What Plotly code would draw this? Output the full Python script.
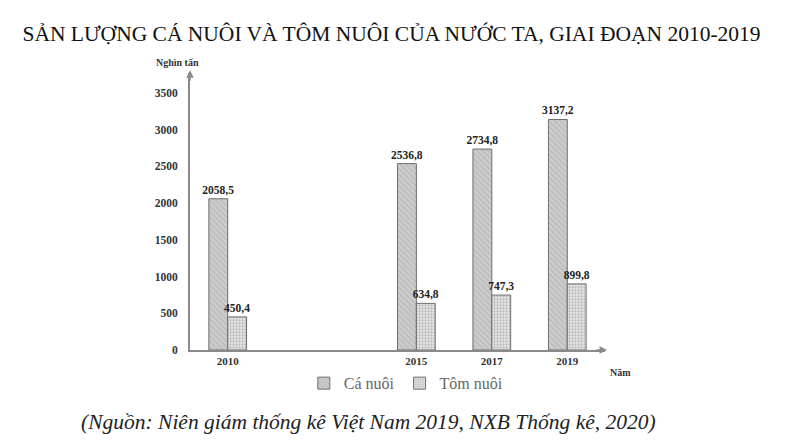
import plotly.graph_objects as go

# Data (nghìn tấn)
years = [2010, 2015, 2017, 2019]
ca_nuoi = [2058.5, 2536.8, 2734.8, 3137.2]
tom_nuoi = [450.4, 634.8, 747.3, 899.8]
y_ticks = [0, 500, 1000, 1500, 2000, 2500, 3000, 3500]


def vn(v):
    # Vietnamese decimal comma
    return f"{v:.1f}".replace(".", ",")


font = "Liberation Serif, Times New Roman, serif"
label_font = dict(family=font, size=11.5, color="#222", weight="bold")

fig = go.Figure()

fig.add_trace(go.Bar(
    x=years, y=ca_nuoi, name="Cá nuôi",
    width=0.5, offset=-0.5,
    marker=dict(color="#cdcdcd", line=dict(color="#6e6e6e", width=1),
                pattern=dict(shape="\\", fgcolor="#a0a0a0", size=4, solidity=0.3)),
    text=[vn(v) for v in ca_nuoi], textposition="outside",
    textfont=label_font, constraintext="none", cliponaxis=False,
))
fig.add_trace(go.Bar(
    x=years, y=tom_nuoi, name="Tôm nuôi",
    width=0.5, offset=0,
    marker=dict(color="#e8e8e8", line=dict(color="#6e6e6e", width=1),
                pattern=dict(shape=".", fgcolor="#8c8c8c", size=3, solidity=0.45)),
    text=[vn(v) for v in tom_nuoi], textposition="outside",
    textfont=label_font, constraintext="none", cliponaxis=False,
))

# the page adds an 8px body margin, so the figure is drawn 8px smaller
fig.update_layout(
    width=785, height=434,
    barmode="overlay",
    plot_bgcolor="white", paper_bgcolor="white",
    margin=dict(l=182, r=188, t=65, b=92),
    font=dict(family=font, color="#222"),
    title=dict(text="SẢN LƯỢNG CÁ NUÔI VÀ TÔM NUÔI CỦA NƯỚC TA, GIAI ĐOẠN 2010-2019",
               x=383.5 / 785, xanchor="center", y=1 - 25 / 434, yanchor="middle",
               font=dict(family=font, size=21.5, color="#111")),
    legend=dict(orientation="h", x=0.52, xanchor="center", y=-0.12, yanchor="middle",
                font=dict(family=font, size=16, color="#666"),
                itemwidth=30, tracegroupgap=0),
    xaxis=dict(range=[2009, 2020], tickvals=years, ticktext=[str(y) for y in years],
               showline=True, linecolor="#8a8a8a", linewidth=2, showgrid=False,
               zeroline=False, ticks="", ticklen=0,
               tickfont=dict(family=font, size=11, color="#333", weight="bold")),
    yaxis=dict(range=[0, 3770], tickvals=y_ticks, showline=True, linecolor="#8a8a8a",
               linewidth=2, showgrid=False, zeroline=False, ticks="",
               tickfont=dict(family=font, size=11.5, color="#333", weight="bold"),
               ticklabelstandoff=8),
)

# axis arrows and labels
fig.add_annotation(x=1.005, y=0, xref="paper", yref="paper", ax=-12, ay=0,
                   showarrow=True, arrowhead=2, arrowsize=1, arrowwidth=1.5,
                   arrowcolor="#8a8a8a", text="")
fig.add_annotation(x=0, y=1.01, xref="paper", yref="paper", ax=0, ay=12,
                   showarrow=True, arrowhead=2, arrowsize=1, arrowwidth=1.5,
                   arrowcolor="#8a8a8a", text="")
fig.add_annotation(x=-0.03, y=(350 - 62) / 277, xref="paper", yref="paper",
                   xanchor="center", yanchor="middle", showarrow=False,
                   text="<b>Nghìn tấn</b>",
                   font=dict(family=font, size=10, color="#333"))
fig.add_annotation(x=(620 - 190) / 415, y=(350 - 372) / 277, xref="paper", yref="paper",
                   xanchor="center", yanchor="middle", showarrow=False,
                   text="<b>Năm</b>",
                   font=dict(family=font, size=10, color="#333"))
fig.add_annotation(x=(368.5 - 190) / 415, y=(350 - 422) / 277, xref="paper", yref="paper",
                   xanchor="center", yanchor="middle", showarrow=False,
                   text="<i>(Nguồn: Niên giám thống kê Việt Nam 2019, NXB Thống kê, 2020)</i>",
                   font=dict(family=font, size=21.5, color="#222"))

fig.write_html("out.html")
